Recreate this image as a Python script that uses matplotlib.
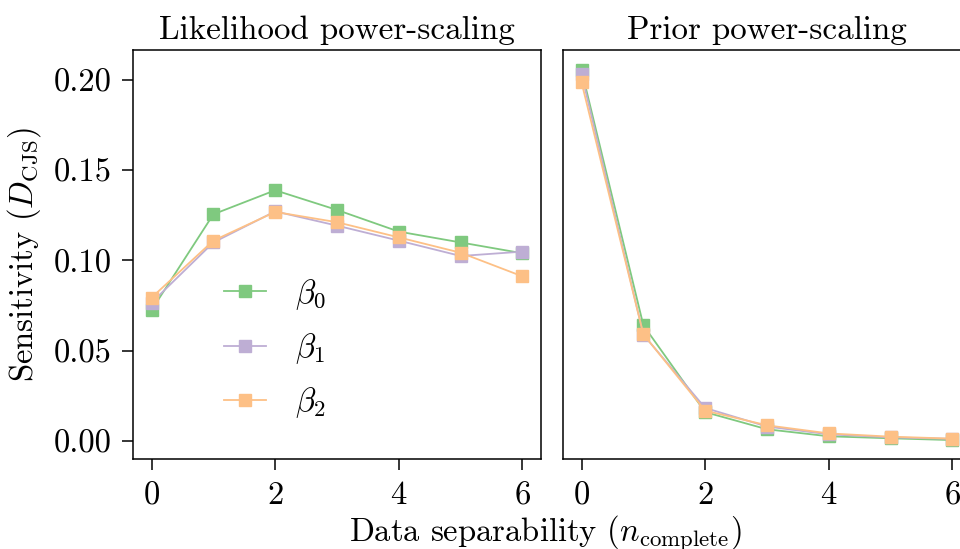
import matplotlib
matplotlib.use("Agg")
import matplotlib.pyplot as plt
from matplotlib.ticker import FormatStrFormatter

plt.rcParams["font.family"] = "serif"
plt.rcParams["font.serif"] = ["cmr10", "DejaVu Serif"]
plt.rcParams["mathtext.fontset"] = "cm"
plt.rcParams["axes.formatter.use_mathtext"] = True
plt.rcParams["font.size"] = 23.5

# data separability (number of complete cases)
n_complete = [0, 1, 2, 3, 4, 5, 6]
labels = [r"$\beta_0$", r"$\beta_1$", r"$\beta_2$"]
colors = ["#7fc97f", "#beaed4", "#fdc086"]

# sensitivity D_CJS, likelihood power-scaling
lik_b0 = [0.0725, 0.1256, 0.1389, 0.1280, 0.1160, 0.1100, 0.1040]
lik_b1 = [0.0766, 0.1100, 0.1272, 0.1193, 0.1110, 0.1025, 0.1049]
lik_b2 = [0.0794, 0.1110, 0.1269, 0.1212, 0.1128, 0.1043, 0.0912]

# sensitivity D_CJS, prior power-scaling
pri_b0 = [0.2054, 0.0641, 0.0160, 0.0065, 0.0026, 0.0015, 0.0005]
pri_b1 = [0.2033, 0.0589, 0.0183, 0.0080, 0.0037, 0.0020, 0.0012]
pri_b2 = [0.1987, 0.0591, 0.0168, 0.0087, 0.0042, 0.0024, 0.0013]

fig = plt.figure(figsize=(9.6, 5.49), dpi=100)
ax1 = fig.add_axes([133 / 960, 90 / 549, 408 / 960, 409 / 549])
ax2 = fig.add_axes([563 / 960, 90 / 549, 408 / 960, 409 / 549], sharey=ax1)

for ax, series, title in [(ax1, [lik_b0, lik_b1, lik_b2], "Likelihood power-scaling"),
                          (ax2, [pri_b0, pri_b1, pri_b2], "Prior power-scaling")]:
    for ys, c, lab in zip(series, colors, labels):
        ax.plot(n_complete, ys, color=c, marker="s", markersize=9,
                linewidth=1.3, label=lab)
    ax.set_title(title, fontsize=23.8, pad=8)
    ax.set_xlim(-0.3, 6.3)
    ax.set_xticks([0, 2, 4, 6])
    ax.tick_params(length=8, width=1.1, pad=7.5)
    for s in ax.spines.values():
        s.set_linewidth(1.1)

ax1.set_ylim(-0.00997, 0.2166)
ax1.set_yticks([0.0, 0.05, 0.10, 0.15, 0.20])
ax1.yaxis.set_major_formatter(FormatStrFormatter("%.2f"))
ax1.set_ylabel(r"Sensitivity ($D_{\mathrm{CJS}}$)")
ax1.yaxis.set_label_coords(-0.22, 0.5)
ax2.tick_params(axis="y", left=False, labelleft=False)

ax1.legend(loc="center left", bbox_to_anchor=(0.15, 0.27), frameon=False,
           labelspacing=0.6, handlelength=1.3, handletextpad=0.9)

fig.text(0.568, 0.0135, r"Data separability ($n_{\mathrm{complete}}$)",
         ha="center", va="baseline")

fig.savefig("out.png", dpi=100)
